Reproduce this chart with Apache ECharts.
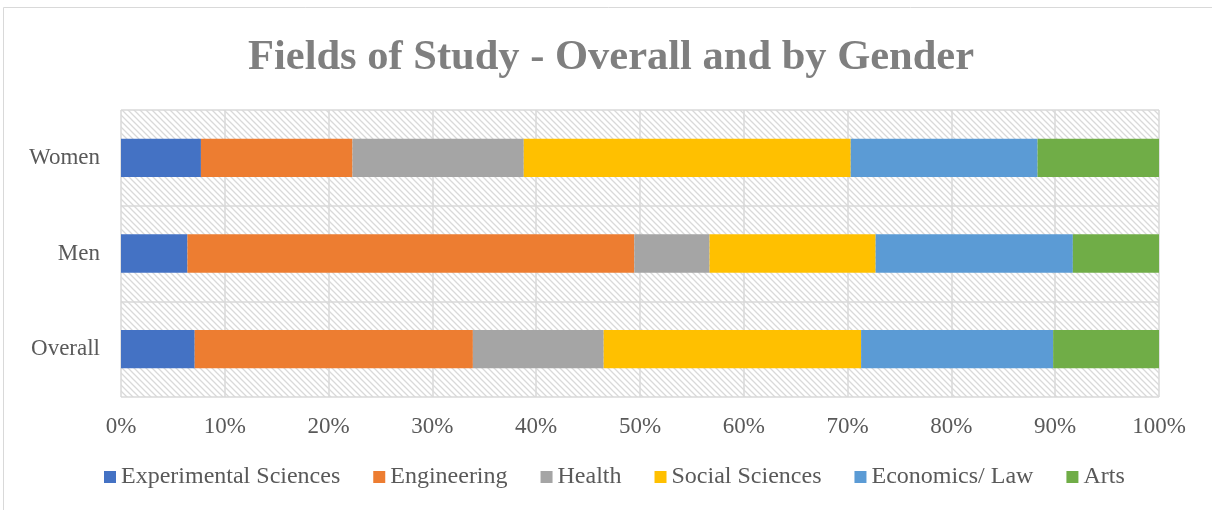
<!DOCTYPE html>
<html>
<head>
<meta charset="utf-8">
<script src="https://cdn.jsdelivr.net/npm/echarts@6/dist/echarts.min.js"></script>
<style>
  html, body { margin: 0; padding: 0; background: #fff; }
  #chart { width: 1212px; height: 510px; }
</style>
</head>
<body>
<div id="chart"></div>
<script>
// data (percent of each group)
const groups = ["Overall", "Men", "Women"];
const fields = ["Experimental Sciences", "Engineering", "Health", "Social Sciences", "Economics/ Law", "Arts"];
const experimental = [7.1, 6.4, 7.7];
const engineering = [26.8, 43.05, 14.6];
const health = [12.6, 7.25, 16.5];
const social = [24.8, 16.0, 31.5];
const economics = [18.5, 19.0, 18.0];
const arts = [10.2, 8.3, 11.7];
const xTicks = [0, 10, 20, 30, 40, 50, 60, 70, 80, 90, 100];

const colors = ["#4472C4", "#ED7D31", "#A5A5A5", "#FFC000", "#5B9BD5", "#70AD47"];
const values = [experimental, engineering, health, social, economics, arts];

// hatch pattern for the plot area
const hatch = document.createElement("canvas");
hatch.width = 6;
hatch.height = 6;
const ctx = hatch.getContext("2d");
ctx.fillStyle = "#ffffff";
ctx.fillRect(0, 0, 6, 6);
ctx.strokeStyle = "#d9d9d9";
ctx.lineWidth = 1.3;
ctx.beginPath();
ctx.moveTo(-1, -1); ctx.lineTo(7, 7);
ctx.moveTo(-4, 2); ctx.lineTo(2, 8);
ctx.moveTo(2, -4); ctx.lineTo(8, 2);
ctx.stroke();

const chart = echarts.init(document.getElementById("chart"));
const font = "'Liberation Serif', 'Times New Roman', serif";

chart.setOption({
  animation: false,
  textStyle: { fontFamily: font },
  title: {
    text: "Fields of Study - Overall and by Gender",
    left: 243,
    top: 32,
    textStyle: { fontFamily: font, fontSize: 42.5, fontWeight: "bold", color: "#7f7f7f" }
  },
  graphic: [{
    type: "rect",
    shape: { x: 3.5, y: 7.5, width: 1220, height: 520 },
    style: { fill: "none", stroke: "#d9d9d9", lineWidth: 1 },
    silent: true
  }],
  legend: {
    bottom: 16,
    left: 99,
    itemWidth: 12,
    itemHeight: 12,
    itemGap: 33,
    icon: "rect",
    textStyle: { fontFamily: font, fontSize: 24, color: "#595959" },
    data: fields
  },
  grid: {
    left: 121,
    right: 53,
    top: 110,
    bottom: 113,
    show: true,
    borderWidth: 0,
    backgroundColor: { image: hatch, repeat: "repeat" }
  },
  xAxis: {
    type: "value",
    min: 0,
    max: 100,
    interval: 10,
    axisLine: { show: false },
    axisTick: { show: false },
    axisLabel: {
      formatter: v => xTicks.includes(v) ? v + "%" : "",
      fontFamily: font, fontSize: 23, color: "#595959", margin: 18
    },
    splitLine: { show: true, lineStyle: { color: "#d9d9d9", width: 1.5 } }
  },
  yAxis: {
    type: "category",
    data: groups,
    axisLine: { show: false },
    axisTick: { show: false },
    axisLabel: { fontFamily: font, fontSize: 23, color: "#595959", margin: 21 },
    splitLine: { show: true, lineStyle: { color: "#d9d9d9", width: 1.5 } }
  },
  series: fields.map((name, i) => ({
    name: name,
    type: "bar",
    stack: "total",
    barCategoryGap: "60%",
    itemStyle: { color: colors[i] },
    data: values[i]
  }))
});
</script>
</body>
</html>
